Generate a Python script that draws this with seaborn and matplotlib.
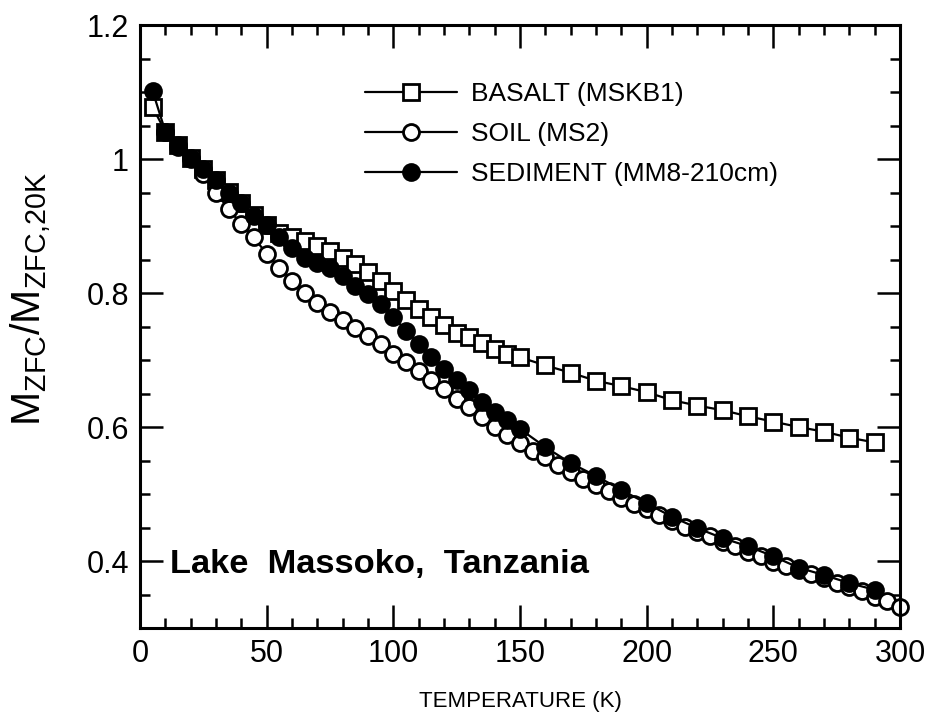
import pandas as pd
import matplotlib
matplotlib.use("Agg")
import matplotlib.pyplot as plt
import seaborn as sns
from matplotlib.ticker import MultipleLocator


# -----------------------------
# data
# -----------------------------
temp_basalt = [5, 10, 15, 20, 25, 30, 35, 40, 45, 50, 55, 60, 65, 70, 75, 80,
               85, 90, 95, 100, 105, 110, 115, 120, 125, 130, 135, 140, 145, 150,
               160, 170, 180, 190, 200, 210, 220, 230, 240, 250, 260, 270, 280, 290]
m_basalt = [1.077, 1.041, 1.021, 1.002, 0.985, 0.968, 0.951, 0.934, 0.917, 0.902,
            0.889, 0.884, 0.878, 0.870, 0.863, 0.853, 0.843, 0.831, 0.818, 0.803,
            0.789, 0.776, 0.764, 0.752, 0.741, 0.734, 0.726, 0.716, 0.709, 0.704,
            0.692, 0.681, 0.669, 0.661, 0.652, 0.640, 0.632, 0.625, 0.616, 0.608,
            0.600, 0.593, 0.584, 0.577]

temp_soil = [10, 15, 20, 25, 30, 35, 40, 45, 50, 55, 60, 65, 70, 75, 80,
             85, 90, 95, 100, 105, 110, 115, 120, 125, 130, 135, 140, 145, 150,
             155, 160, 165, 170, 175, 180, 185, 190, 195, 200, 205, 210, 215, 220,
             225, 230, 235, 240, 245, 250, 255, 260, 265, 270, 275, 280, 285, 290,
             295, 300]
m_soil = [1.040, 1.018, 1.000, 0.977, 0.950, 0.925, 0.903, 0.883, 0.858,
          0.838, 0.818, 0.800, 0.785, 0.771, 0.759, 0.748, 0.736, 0.724, 0.709,
          0.697, 0.684, 0.670, 0.657, 0.642, 0.630, 0.615, 0.600, 0.588, 0.576,
          0.564, 0.555, 0.544, 0.533, 0.523, 0.514, 0.505, 0.494, 0.485, 0.477,
          0.469, 0.459, 0.451, 0.444, 0.437, 0.429, 0.422, 0.414, 0.407, 0.399,
          0.392, 0.386, 0.380, 0.374, 0.367, 0.361, 0.355, 0.347, 0.340, 0.331]

temp_sediment = temp_basalt
m_sediment = [1.101, 1.041, 1.021, 1.002, 0.985, 0.969, 0.950, 0.935, 0.915, 0.901,
              0.883, 0.867, 0.853, 0.845, 0.838, 0.826, 0.811, 0.799, 0.784, 0.764,
              0.744, 0.724, 0.704, 0.686, 0.670, 0.655, 0.637, 0.622, 0.610, 0.597,
              0.570, 0.546, 0.527, 0.506, 0.486, 0.466, 0.449, 0.434, 0.422, 0.407,
              0.390, 0.379, 0.367, 0.357]

labels = ["BASALT (MSKB1)", "SOIL (MS2)", "SEDIMENT (MM8-210cm)"]


# -----------------------------
# style
# -----------------------------
sns.set_theme(style="ticks")
plt.rcParams["font.family"] = ["Liberation Sans", "DejaVu Sans"]
plt.rcParams["mathtext.fontset"] = "custom"
plt.rcParams["mathtext.rm"] = "Liberation Sans"
plt.rcParams["text.color"] = "black"
plt.rcParams["axes.labelcolor"] = "black"

fig = plt.figure(figsize=(9.28, 7.13), dpi=100)
ax = fig.add_axes([0.1509, 0.1192, 0.8190, 0.8457])

line_kw = dict(color="black", linewidth=1.6, markersize=11.5,
               markeredgewidth=2.0, markeredgecolor="black", clip_on=False)

sns.lineplot(x=temp_basalt, y=m_basalt, ax=ax, marker="s",
             markerfacecolor="white", label=labels[0], **line_kw)
sns.lineplot(x=temp_soil, y=m_soil, ax=ax, marker="o",
             markerfacecolor="white", label=labels[1], **line_kw)
sns.lineplot(x=temp_sediment, y=m_sediment, ax=ax, marker="o",
             markerfacecolor="black", label=labels[2], **line_kw)

ax.set_xlim(0, 300)
ax.set_ylim(0.3, 1.2)

ax.xaxis.set_major_locator(MultipleLocator(50))
ax.xaxis.set_minor_locator(MultipleLocator(10))
ax.yaxis.set_minor_locator(MultipleLocator(0.05))
ax.set_yticks([0.4, 0.6, 0.8, 1.0, 1.2])
ax.set_yticklabels(["0.4", "0.6", "0.8", "1", "1.2"])

ax.tick_params(which="both", direction="in", top=True, right=True,
               width=1.8, colors="black")
ax.tick_params(which="major", length=16.5, labelsize=22, pad=8)
ax.tick_params(which="minor", length=7.2)

for side in ax.spines.values():
    side.set_linewidth(2.2)
    side.set_color("black")
    side.set_visible(True)

ax.set_xlabel("TEMPERATURE (K)", fontsize=16, labelpad=16)
ax.set_ylabel(r"$\mathregular{M_{ZFC}/M_{ZFC{,}20K}}$", fontsize=29.5)
ax.yaxis.set_label_coords(-0.113, 0.545)

ax.text(0.0395, 0.091, "Lake  Massoko,  Tanzania", transform=ax.transAxes,
        fontsize=24.8, fontweight="bold", va="baseline", ha="left")

ax.legend(loc="upper left", bbox_to_anchor=(0.296, 0.905), frameon=False,
          fontsize=19, handlelength=3.5, handletextpad=0.5, labelspacing=0.6,
          borderpad=0, borderaxespad=0)

plt.savefig("out.png", dpi=100)
